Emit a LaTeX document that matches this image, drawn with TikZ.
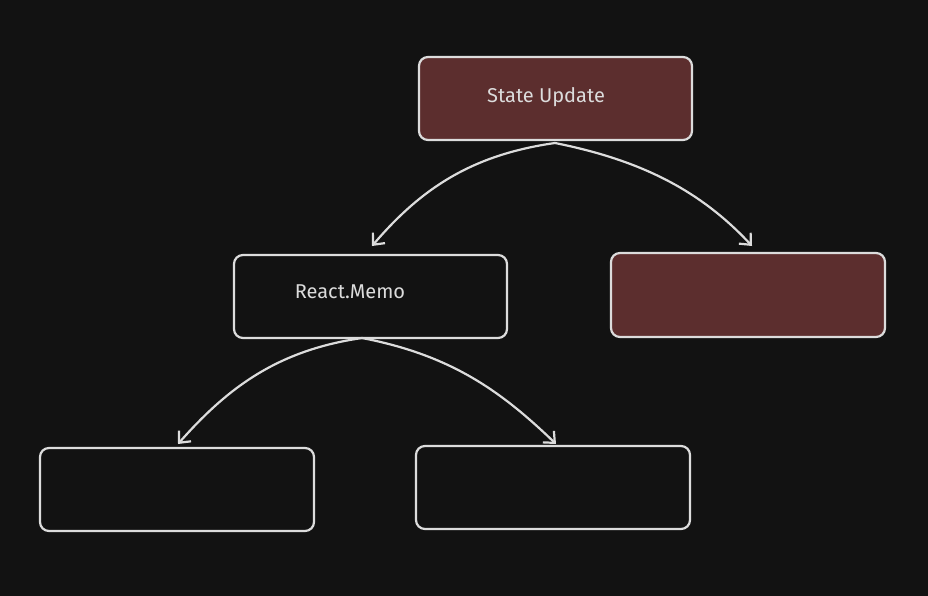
\documentclass[tikz,border=0pt]{standalone}
\usepackage{fontspec}
\usetikzlibrary{arrows.meta}
\setmainfont{Fira Sans}
\begin{document}
\begin{tikzpicture}[x=1pt,y=-1pt,
  box/.style={draw=lgray,line width=2.2pt,rounded corners=9pt},
  conn/.style={draw=lgray,line width=2.2pt,-{Straight Barb[length=9pt,width=16pt]}},
  lbl/.style={text=lgray,font=\fontsize{20}{24}\selectfont}]
\definecolor{bg}{HTML}{121212}
\definecolor{lgray}{HTML}{DCDCDC}
\definecolor{dred}{HTML}{5C2E2E}
\useasboundingbox[fill=bg] (0,0) rectangle (928,596);
\path[box,fill=dred] (419,57) rectangle (692,140);
\node[lbl] (su) at (546,97) {State Update};
\path[box,fill=dred] (611,253) rectangle (885,337);
\path[box] (234,255) rectangle (507,338);
\node[lbl] (rm) at (350,292) {React.Memo};
\path[box] (40,448) rectangle (314,531);
\path[box] (416,446) rectangle (690,529);
\coordinate (a) at (555,143);
\coordinate (b) at (372,246);
\coordinate (c) at (752,246);
\coordinate (d) at (362,338);
\coordinate (e) at (178,444);
\coordinate (f) at (556,444);
\draw[conn] (a) .. controls (470,155) and (420,190) .. (b);
\draw[conn] (a) .. controls (640,160) and (700,190) .. (c);
\draw[conn] (d) .. controls (280,350) and (230,385) .. (e);
\draw[conn] (d) .. controls (450,355) and (500,390) .. (f);
\end{tikzpicture}
\end{document}
